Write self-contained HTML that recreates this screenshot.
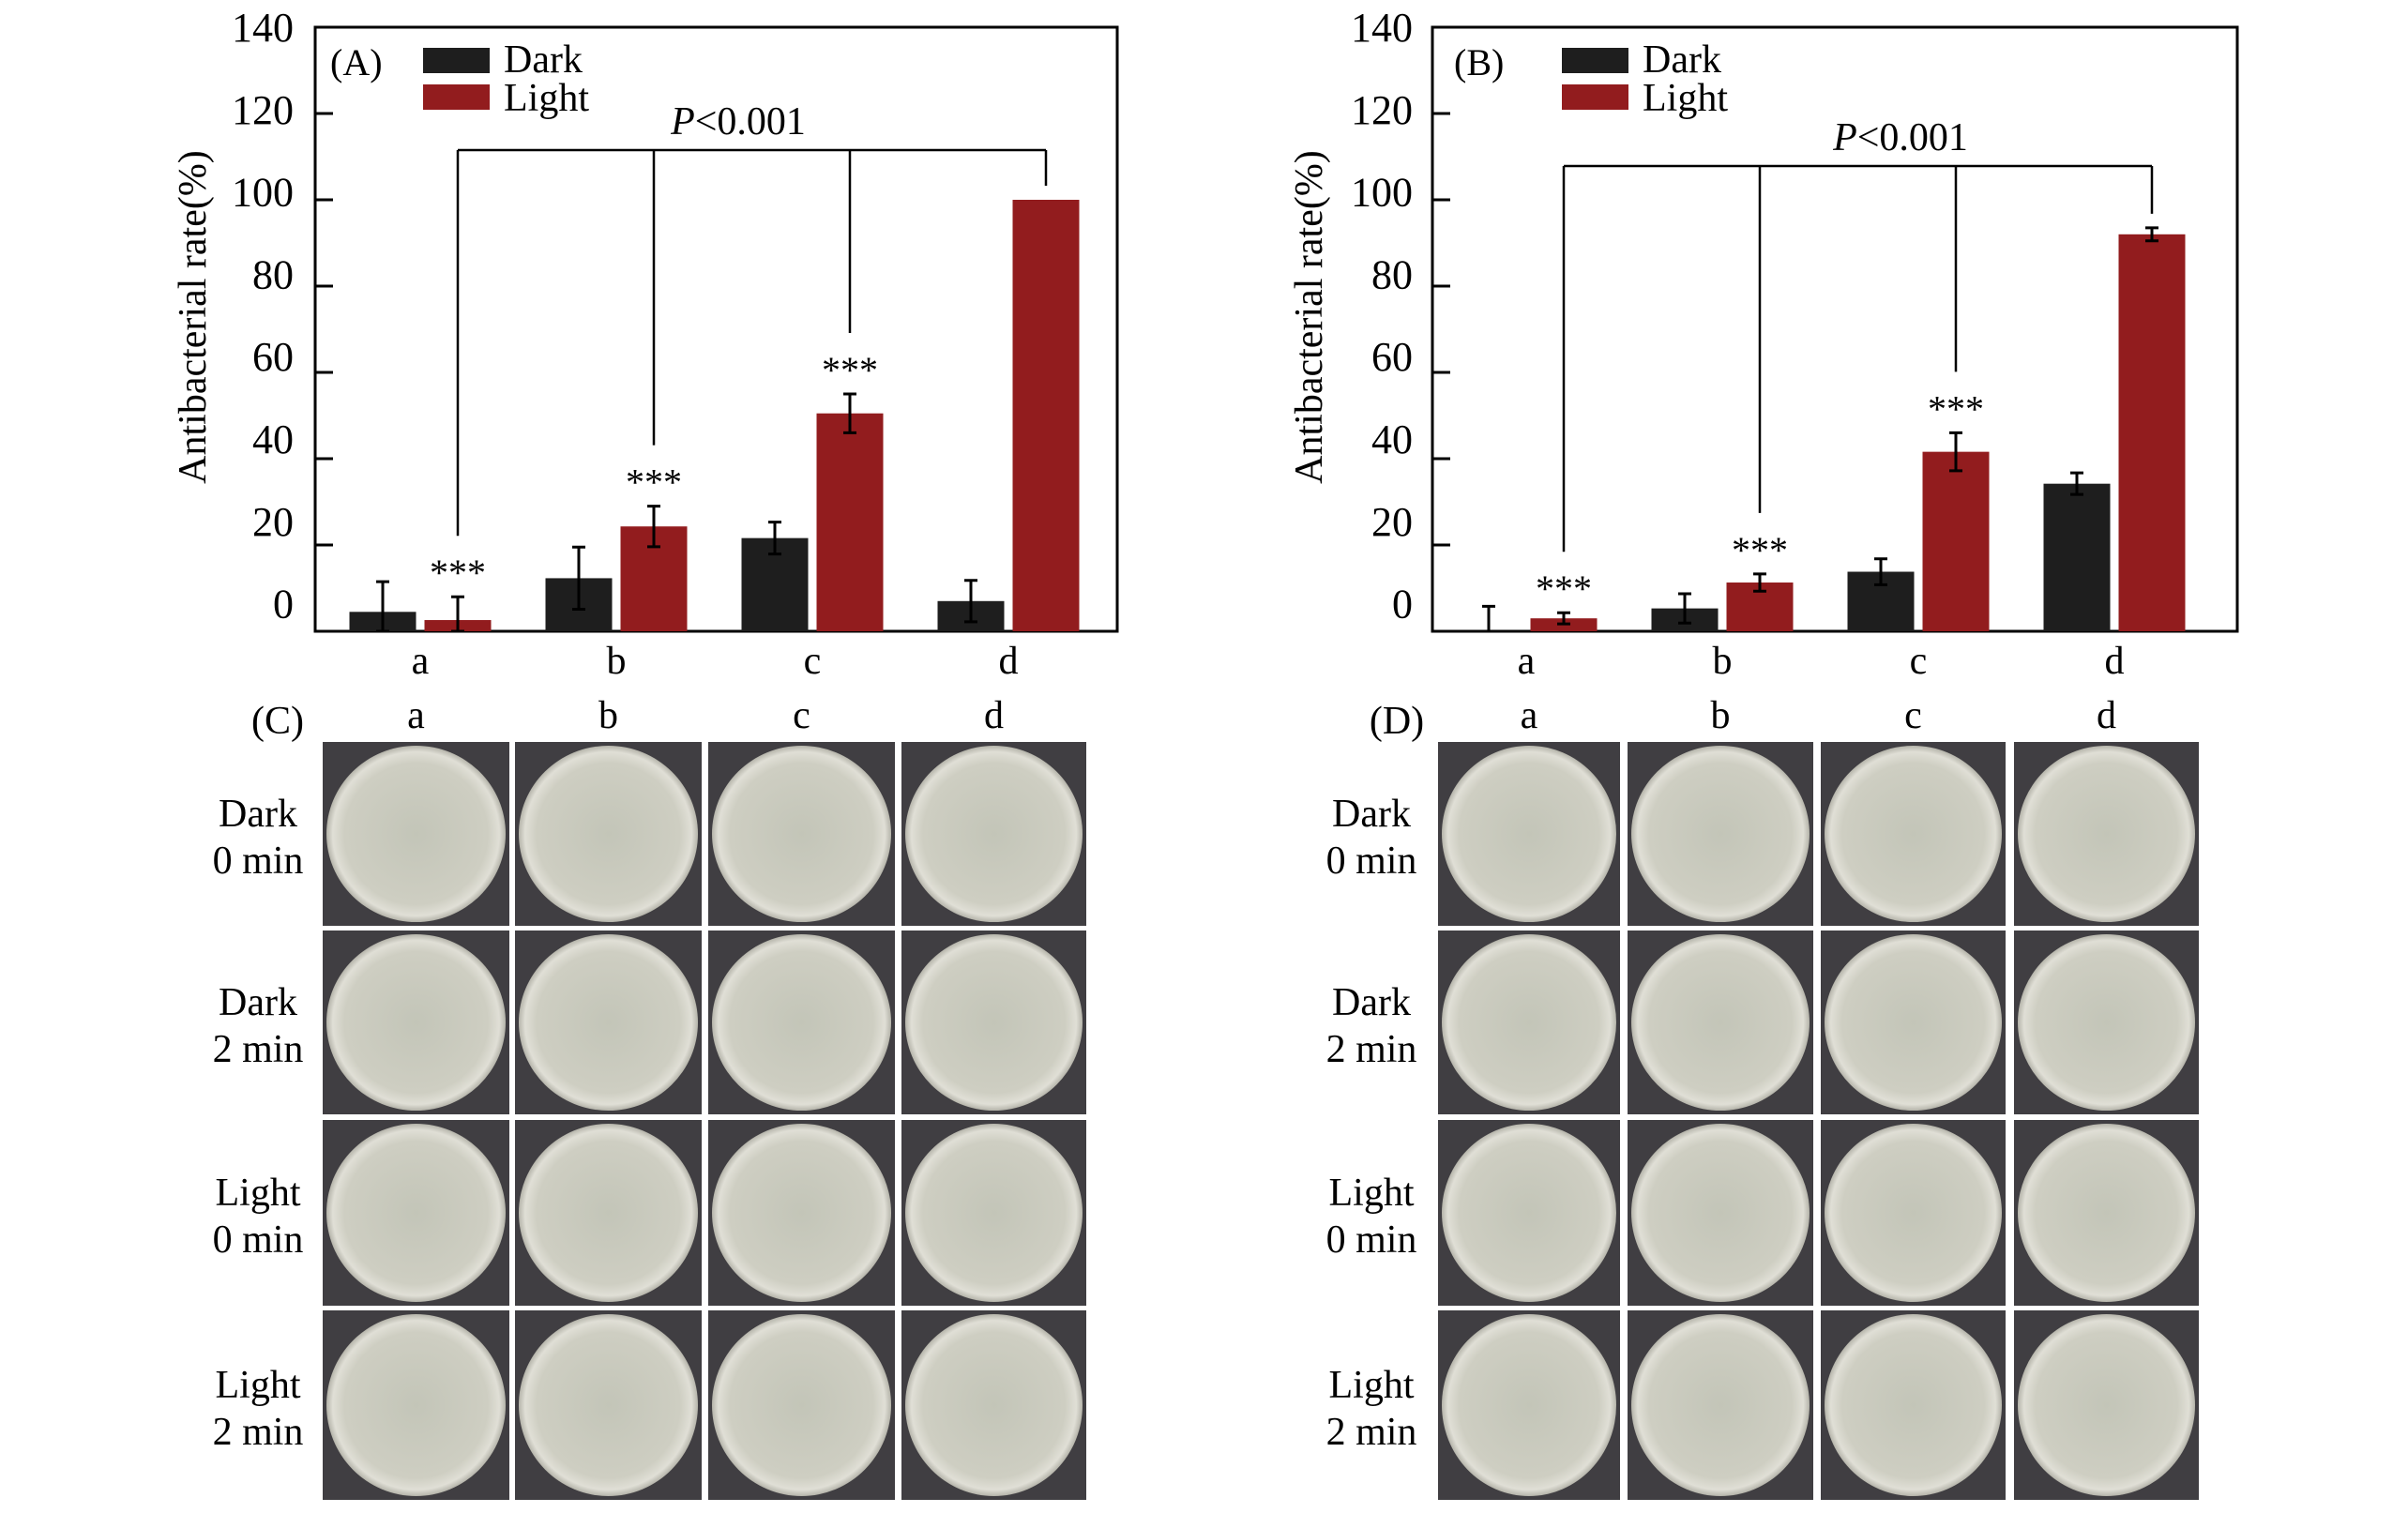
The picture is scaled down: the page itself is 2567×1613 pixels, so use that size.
<!DOCTYPE html>
<html><head><meta charset="utf-8">
<style>
html,body{margin:0;padding:0;background:#fff;}
svg{display:block;font-family:"Liberation Serif",serif;}
</style></head>
<body>
<svg id="fig" width="2567" height="1613" viewBox="0 0 2567 1613" xmlns="http://www.w3.org/2000/svg">
<defs>
<radialGradient id="dish" cx="50%" cy="50%" r="50%">
<stop offset="0%" stop-color="#c3c5b8"/>
<stop offset="80%" stop-color="#ceceC2"/>
<stop offset="93%" stop-color="#e0dfd6"/>
<stop offset="100%" stop-color="#b5b4aa"/>
</radialGradient>
</defs>
<g id="chartA"></g>
<g id="chartB"></g>
<g id="platesC"></g>
<g id="platesD"></g>
</svg>
<script>
const categories = ['a','b','c','d'];
const yTicks = [0,20,40,60,80,100,120,140];
const darkA = [4.5, 12.3, 21.6, 7];
const darkErrA = [7, 7.2, 3.7, 4.8];
const lightA = [2.6, 24.3, 50.5, 100];
const lightErrA = [5.4, 4.7, 4.5, 0];
const darkB = [0, 5.3, 13.8, 34.2];
const darkErrB = [5.8, 3.4, 3, 2.5];
const lightB = [3, 11.3, 41.6, 92];
const lightErrB = [1.3, 2, 4.4, 1.5];
const rowLabels = [['Dark','0 min'],['Dark','2 min'],['Light','0 min'],['Light','2 min']];

const NS = 'http://www.w3.org/2000/svg';
function mk(parent, tag, attrs, text){
  const e = document.createElementNS(NS, tag);
  for (const k in attrs) e.setAttribute(k, attrs[k]);
  if (text !== undefined) e.textContent = text;
  parent.appendChild(e);
  return e;
}
const Y0 = 673, PER = 4.6;
function yScale(v){ return Y0 - v*PER; }

function drawChart(g, o){
  const L=o.left, R=o.right, T=yScale(140), B=Y0;
  const frame = mk(g,'rect',{x:L,y:T,width:R-L,height:B-T,fill:'none',stroke:'#000','stroke-width':3});
  
  
  yTicks.forEach(v=>{
    const y=yScale(v);
    const t = mk(g,'line',{x1:L,x2:L+19,y1:y,y2:y,stroke:'#000','stroke-width':3});
    
    
    const lab = mk(g,'text',{x:o.tickRight,y:y-(140-v)/20*4.2+15,'text-anchor':'end','font-size':44},String(v));
    
    
  });
  const ty=338;
  const yt = mk(g,'text',{x:o.titleX,y:ty,'text-anchor':'middle','dominant-baseline':'central','font-size':42,transform:`rotate(-90 ${o.titleX} ${ty})`},'Antibacterial rate(%)');
  
  
  const pl = mk(g,'text',{x:o.panelX,y:80,'font-size':40},o.panel);
  
  
  const l1 = mk(g,'rect',{x:o.legX,y:51,width:71,height:27,fill:'#1e1e1e'});
  
  
  const l2 = mk(g,'rect',{x:o.legX,y:90,width:71,height:27,fill:'#921c1e'});
  
  
  const lt1 = mk(g,'text',{x:o.legX+86,y:77,'font-size':42},'Dark');
  
  
  const lt2 = mk(g,'text',{x:o.legX+86,y:118,'font-size':42},'Light');
  
  

  const bw=71, gap=4.5, step=209;
  const dropX=[];
  categories.forEach((c,i)=>{
    const cx=o.cx0+i*step;
    const dx=cx-gap-bw, lx=cx+gap;
    const dy=yScale(o.dark[i]), ly=yScale(o.light[i]);
    const bd = mk(g,'rect',{x:dx,y:dy,width:bw,height:B-dy,fill:'#1e1e1e'});
    
    
    const bl = mk(g,'rect',{x:lx,y:ly,width:bw,height:B-ly,fill:'#921c1e'});
    
    
    [[dx+bw/2,o.dark[i],o.darkErr[i]],[lx+bw/2,o.light[i],o.lightErr[i]]].forEach(([x,v,e])=>{
      if(e<=0) return;
      const y1=yScale(v+e), y2=yScale(Math.max(v-e,0));
      const eg = mk(g,'path',{d:`M${x},${y1}V${y2}M${x-7},${y1}H${x+7}M${x-7},${y2}H${x+7}`,stroke:'#000','stroke-width':3,fill:'none'});
      
      
    });
    const xl = mk(g,'text',{x:cx,y:718,'text-anchor':'middle','font-size':42},c);
    
    
    const top = yScale(o.light[i]+o.lightErr[i]);
    const mx = lx+bw/2;
    if(i<3){
      const st = mk(g,'text',{x:mx,y:top-12,'text-anchor':'middle','font-size':40},'***');
      
      
      dropX.push([mx, top-65]);
    } else dropX.push([mx, top-15]);
  });
  let d=`M${dropX[0][0]},${o.brY}H${dropX[3][0]}`;
  dropX.forEach(([x,y])=>{ d+=`M${x},${o.brY}V${y}`; });
  const br = mk(g,'path',{d:d,stroke:'#000','stroke-width':2.5,fill:'none'});
  
  
  const pt = mk(g,'text',{x:o.pX,y:o.brY-17,'text-anchor':'middle','font-size':42});
  
  
  mk(pt,'tspan',{'font-style':'italic'},'P');
  mk(pt,'tspan',{},'<0.001');
}

drawChart(document.getElementById('chartA'),{left:336,right:1191,tickRight:313,titleX:206,panel:'(A)',panelX:352,legX:451,cx0:448,
  dark:darkA,darkErr:darkErrA,light:lightA,lightErr:lightErrA,brY:160,pX:787});
drawChart(document.getElementById('chartB'),{left:1527,right:2385,tickRight:1506,titleX:1396,panel:'(B)',panelX:1550,legX:1665,cx0:1627,
  dark:darkB,darkErr:darkErrB,light:lightB,lightErr:lightErrB,brY:177,pX:2026});

function drawPlates(g,o){
  const pl = mk(g,'text',{x:o.panelX,y:782,'text-anchor':'middle','font-size':42},o.panel);
  
  
  o.cols.forEach(([x0,x1],ci)=>{
    const cl = mk(g,'text',{x:(x0+x1)/2,y:776,'text-anchor':'middle','font-size':42},categories[ci]);
    
    
  });
  o.rows.forEach(([y0,y1],ri)=>{
    const cy=(y0+y1)/2;
    const rl = mk(g,'text',{x:o.labelX,y:cy-8,'text-anchor':'middle','font-size':42},rowLabels[ri][0]);
    
    
    const rl2 = mk(g,'text',{x:o.labelX,y:cy+42,'text-anchor':'middle','font-size':42},rowLabels[ri][1]);
    
    
    o.cols.forEach(([x0,x1],ci)=>{
      const bg = mk(g,'rect',{x:x0,y:y0,width:x1-x0,height:y1-y0,fill:'#403e42'});
      
      
      const empty = (ri===3 && ci===3);
      const c = mk(g,'ellipse',{cx:(x0+x1)/2,cy:(y0+y1)/2,rx:(x1-x0)/2-4,ry:(y1-y0)/2-4,fill:'url(#dish)'});
      
      
    });
  });
}
const rowsY=[[791,987],[992,1188],[1194,1392],[1397,1599]];
drawPlates(document.getElementById('platesC'),{panel:'(C)',panelX:296,labelX:275,
  cols:[[344,543],[549,748],[755,954],[961,1158]],rows:rowsY});
drawPlates(document.getElementById('platesD'),{panel:'(D)',panelX:1489,labelX:1462,
  cols:[[1533,1727],[1735,1933],[1941,2138],[2147,2344]],rows:rowsY});
</script>
</body></html>
